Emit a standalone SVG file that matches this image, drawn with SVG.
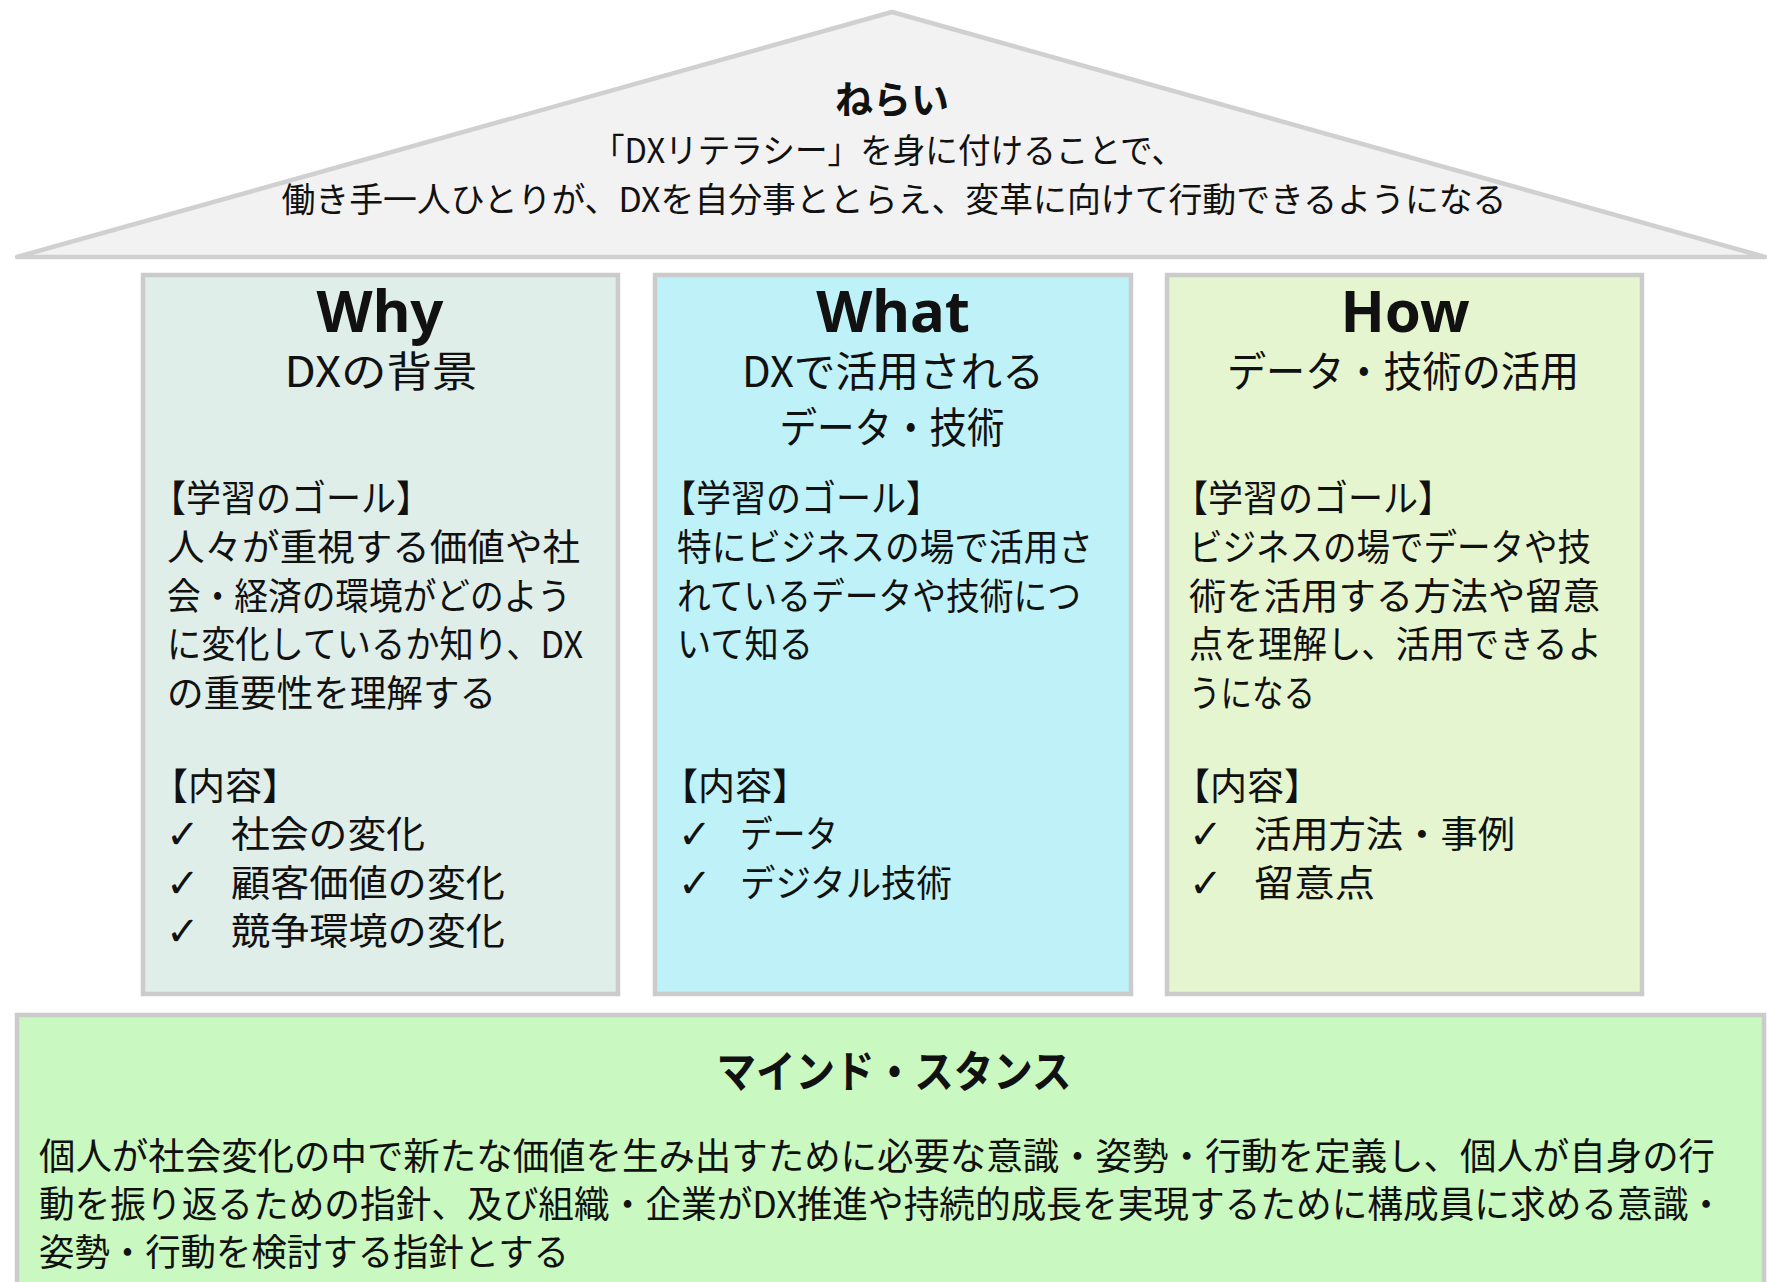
<svg xmlns="http://www.w3.org/2000/svg" width="1767" height="1282" viewBox="0 0 1767 1282">
<style>
text{font-family:"Noto Sans CJK JP","Noto Sans",sans-serif;fill:#111;}
.roof{fill:#f2f2f2;stroke:#d0d0d0;stroke-width:4.5;stroke-linejoin:round;}
.pillar{stroke:#cbcbcb;stroke-width:4.5;}
.head{font-family:"Noto Sans","Noto Sans CJK JP",sans-serif;font-weight:700;font-size:58px;text-anchor:middle;}
.sub{font-size:42px;text-anchor:middle;}
.body{font-size:37px;}
.chk{font-family:"DejaVu Sans","Noto Sans CJK JP",sans-serif;font-size:40px;}
.ttl{font-weight:700;text-anchor:middle;}
.mid{text-anchor:middle;}
</style>
<rect width="1767" height="1282" fill="#ffffff"/>
<g id="nerai">
<polygon class="roof" points="17,257 892,12 1765,257"/>
<text class="ttl" x="892" y="113" font-size="38">ねらい</text>
<text class="mid" x="888" y="163" font-size="34" textLength="592" lengthAdjust="spacingAndGlyphs">「DXリテラシー」を身に付けることで、</text>
<text class="mid" x="894" y="212" font-size="34" textLength="1225" lengthAdjust="spacingAndGlyphs">働き手一人ひとりが、DXを自分事ととらえ、変革に向けて行動できるようになる</text>
</g>
<g id="why">
<rect class="pillar" x="143" y="275" width="475" height="719" fill="#dfeee9"/>
<text class="head" x="380" y="332">Why</text>
<text class="sub" x="381" y="387" textLength="193" lengthAdjust="spacingAndGlyphs">DXの背景</text>
<text class="body" x="151" y="512" textLength="280" lengthAdjust="spacingAndGlyphs">【学習のゴール】</text>
<text class="body" x="167" y="561" textLength="413" lengthAdjust="spacingAndGlyphs">人々が重視する価値や社</text>
<text class="body" x="167" y="610" textLength="404" lengthAdjust="spacingAndGlyphs">会・経済の環境がどのよう</text>
<text class="body" x="167" y="658" textLength="416" lengthAdjust="spacingAndGlyphs">に変化しているか知り、DX</text>
<text class="body" x="167" y="707" textLength="329" lengthAdjust="spacingAndGlyphs">の重要性を理解する</text>
<text class="body" x="151" y="800">【内容】</text>
<text class="chk" x="166" y="848">✓</text><text class="body" x="231" y="848" textLength="194" lengthAdjust="spacingAndGlyphs">社会の変化</text>
<text class="chk" x="166" y="897">✓</text><text class="body" x="231" y="897" textLength="274" lengthAdjust="spacingAndGlyphs">顧客価値の変化</text>
<text class="chk" x="166" y="945">✓</text><text class="body" x="231" y="945" textLength="274" lengthAdjust="spacingAndGlyphs">競争環境の変化</text>
</g>
<g id="what">
<rect class="pillar" x="655" y="275" width="476" height="719" fill="#bef1f8"/>
<text class="head" x="893" y="332">What</text>
<text class="sub" x="893" y="387" textLength="302" lengthAdjust="spacingAndGlyphs">DXで活用される</text>
<text class="sub" x="892" y="443" textLength="225" lengthAdjust="spacingAndGlyphs">データ・技術</text>
<text class="body" x="661" y="512" textLength="280" lengthAdjust="spacingAndGlyphs">【学習のゴール】</text>
<text class="body" x="677" y="561" textLength="416" lengthAdjust="spacingAndGlyphs">特にビジネスの場で活用さ</text>
<text class="body" x="677" y="610" textLength="404" lengthAdjust="spacingAndGlyphs">れているデータや技術につ</text>
<text class="body" x="677" y="658" textLength="136" lengthAdjust="spacingAndGlyphs">いて知る</text>
<text class="body" x="661" y="800">【内容】</text>
<text class="chk" x="678" y="848">✓</text><text class="body" x="740" y="848" textLength="98" lengthAdjust="spacingAndGlyphs">データ</text>
<text class="chk" x="678" y="897">✓</text><text class="body" x="740" y="897" textLength="212" lengthAdjust="spacingAndGlyphs">デジタル技術</text>
</g>
<g id="how">
<rect class="pillar" x="1167" y="275" width="475" height="719" fill="#e5f5cf"/>
<text class="head" x="1405" y="332">How</text>
<text class="sub" x="1403" y="387" textLength="352" lengthAdjust="spacingAndGlyphs">データ・技術の活用</text>
<text class="body" x="1173" y="512" textLength="280" lengthAdjust="spacingAndGlyphs">【学習のゴール】</text>
<text class="body" x="1189" y="561" textLength="402" lengthAdjust="spacingAndGlyphs">ビジネスの場でデータや技</text>
<text class="body" x="1189" y="610" textLength="411" lengthAdjust="spacingAndGlyphs">術を活用する方法や留意</text>
<text class="body" x="1189" y="658" textLength="413" lengthAdjust="spacingAndGlyphs">点を理解し、活用できるよ</text>
<text class="body" x="1189" y="707" textLength="126" lengthAdjust="spacingAndGlyphs">うになる</text>
<text class="body" x="1173" y="800">【内容】</text>
<text class="chk" x="1189" y="848">✓</text><text class="body" x="1254" y="848" textLength="261" lengthAdjust="spacingAndGlyphs">活用方法・事例</text>
<text class="chk" x="1189" y="897">✓</text><text class="body" x="1254" y="897" textLength="121" lengthAdjust="spacingAndGlyphs">留意点</text>
</g>
<g id="mind">
<rect class="pillar" x="17" y="1015" width="1747" height="290" fill="#c9f8c0"/>
<text class="ttl" x="894" y="1088" font-size="44" textLength="355" lengthAdjust="spacingAndGlyphs">マインド・スタンス</text>
<text class="body" x="39" y="1170" font-size="36" textLength="1676" lengthAdjust="spacingAndGlyphs">個人が社会変化の中で新たな価値を生み出すために必要な意識・姿勢・行動を定義し、個人が自身の行</text>
<text class="body" x="39" y="1218" font-size="36" textLength="1685" lengthAdjust="spacingAndGlyphs">動を振り返るための指針、及び組織・企業がDX推進や持続的成長を実現するために構成員に求める意識・</text>
<text class="body" x="39" y="1266" font-size="36" textLength="530" lengthAdjust="spacingAndGlyphs">姿勢・行動を検討する指針とする</text>
</g>
<g id="connectors"/>
</svg>
